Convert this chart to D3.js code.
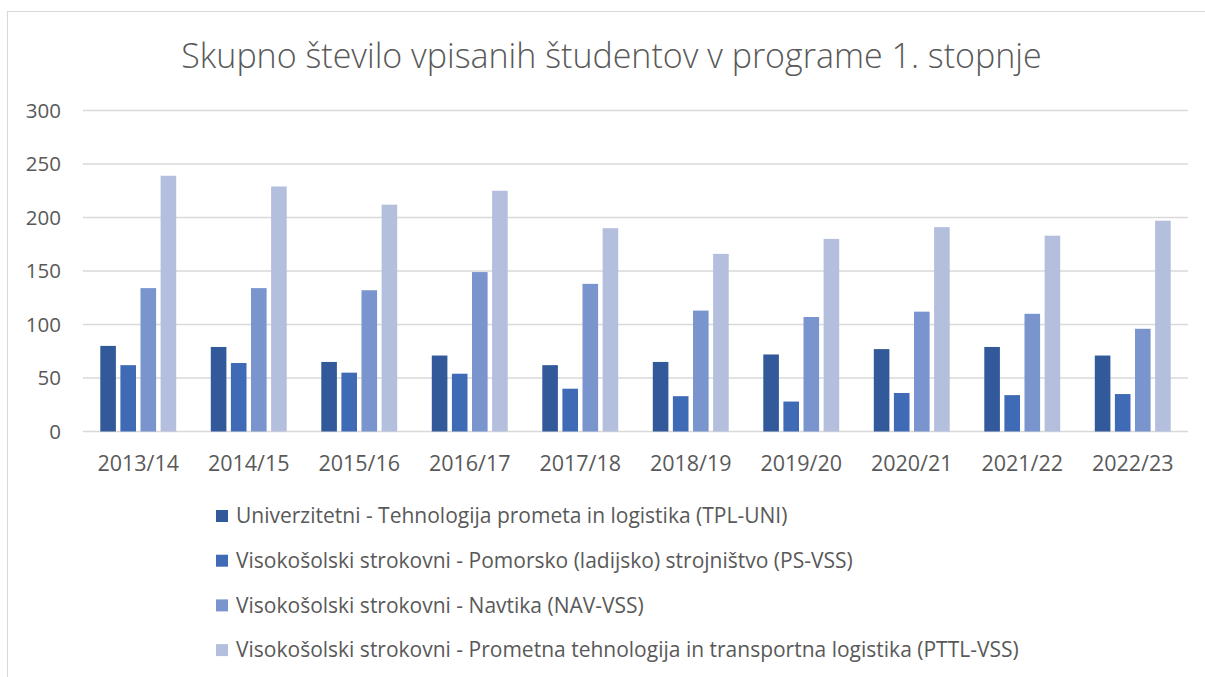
<!DOCTYPE html>
<html>
<head>
<meta charset="utf-8">
<script src="https://cdn.jsdelivr.net/npm/d3@7"></script>
<style>
  body { margin: 0; background: #fff; }
  text { font-family: "Open Sans", "DejaVu Sans", sans-serif; fill: #595959; }
</style>
</head>
<body>
<script>
var width = 1205, height = 677;

var categories = ["2013/14","2014/15","2015/16","2016/17","2017/18","2018/19","2019/20","2020/21","2021/22","2022/23"];
var seriesNames = [
  "Univerzitetni - Tehnologija prometa in logistika (TPL-UNI)",
  "Visokošolski strokovni - Pomorsko (ladijsko) strojništvo (PS-VSS)",
  "Visokošolski strokovni - Navtika (NAV-VSS)",
  "Visokošolski strokovni - Prometna tehnologija in transportna logistika (PTTL-VSS)"
];
var tplUni  = [80, 79, 65, 71, 62, 65, 72, 77, 79, 71];
var psVss   = [62, 64, 55, 54, 40, 33, 28, 36, 34, 35];
var navVss  = [134, 134, 132, 149, 138, 113, 107, 112, 110, 96];
var pttlVss = [239, 229, 212, 225, 190, 166, 180, 191, 183, 197];
var yTicks  = [0, 50, 100, 150, 200, 250, 300];
var title = "Skupno število vpisanih študentov v programe 1. stopnje";

var colors = ["#325999", "#3f6ab6", "#7a94ce", "#b4bfde"];
var seriesValues = [tplUni, psVss, navVss, pttlVss];

var svg = d3.select("body").append("svg")
    .attr("width", width)
    .attr("height", height);

// chart border
svg.append("rect")
    .attr("x", 7.5).attr("y", 11.5)
    .attr("width", 1210).attr("height", 700)
    .attr("fill", "#fff")
    .attr("stroke", "#d9d9d9");

var plotLeft = 83, plotRight = 1188, plotTop = 110.5, plotBottom = 431.5;

var x0 = d3.scaleBand()
    .domain(categories)
    .range([plotLeft, plotRight])
    .paddingInner(0.313)
    .paddingOuter(0.1565);

var x1 = d3.scaleBand()
    .domain(d3.range(seriesNames.length))
    .range([0, x0.bandwidth()])
    .paddingInner(0.224);

var y = d3.scaleLinear()
    .domain([0, 300])
    .range([plotBottom, plotTop]);

// gridlines
svg.append("g")
  .selectAll("line")
  .data(yTicks)
  .join("line")
    .attr("x1", plotLeft).attr("x2", plotRight)
    .attr("y1", function(d){ return y(d); })
    .attr("y2", function(d){ return y(d); })
    .attr("stroke", "#d9d9d9")
    .attr("stroke-width", 1.5);

// y tick labels
svg.append("g")
  .selectAll("text")
  .data(yTicks)
  .join("text")
    .attr("x", 61)
    .attr("y", function(d){ return y(d); })
    .attr("dy", "0.35em")
    .attr("text-anchor", "end")
    .style("font-size", "20.5px")
    .text(function(d){ return d; });

// bars
var rows = categories.map(function(c, i){
  return { cat: c, vals: seriesValues.map(function(s){ return s[i]; }) };
});

var groups = svg.append("g")
  .selectAll("g")
  .data(rows)
  .join("g")
    .attr("transform", function(d){ return "translate(" + x0(d.cat) + ",0)"; });

groups.selectAll("rect")
  .data(function(d){ return d.vals; })
  .join("rect")
    .attr("x", function(d, i){ return x1(i); })
    .attr("y", function(d){ return y(d); })
    .attr("width", x1.bandwidth())
    .attr("height", function(d){ return y(0) - y(d); })
    .attr("fill", function(d, i){ return colors[i]; });

// x labels
svg.append("g")
  .selectAll("text")
  .data(categories)
  .join("text")
    .attr("x", function(d){ return x0(d) + x0.bandwidth() / 2; })
    .attr("y", 471)
    .attr("text-anchor", "middle")
    .style("font-size", "21.5px")
    .text(function(d){ return d; });

// title
svg.append("text")
    .attr("x", 611.5)
    .attr("y", 68)
    .attr("text-anchor", "middle")
    .style("font-size", "34px")
    .style("font-weight", 300)
    .text(title);

// legend
var legend = svg.append("g")
  .selectAll("g")
  .data(seriesNames)
  .join("g")
    .attr("transform", function(d, i){ return "translate(216," + (516 + i * 44.7) + ")"; });

legend.append("rect")
    .attr("x", 0).attr("y", -6)
    .attr("width", 12).attr("height", 12)
    .attr("fill", function(d, i){ return colors[i]; });

legend.append("text")
    .attr("x", 20)
    .attr("dy", "0.35em")
    .style("font-size", "21px")
    .text(function(d){ return d; });
</script>
</body>
</html>
